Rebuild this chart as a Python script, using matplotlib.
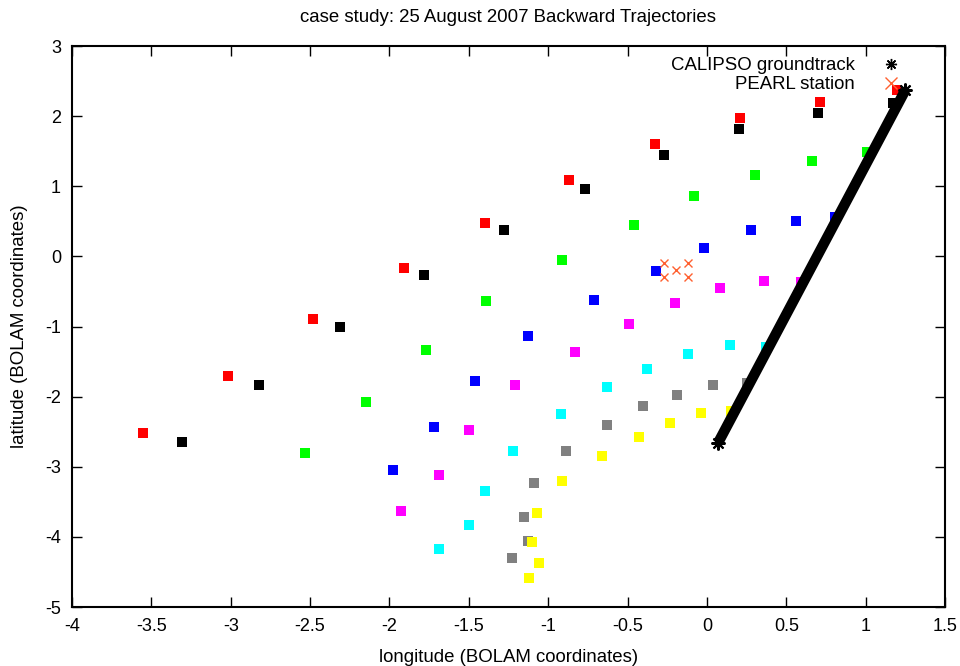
import numpy as np
import matplotlib
matplotlib.use("Agg")
import matplotlib.pyplot as plt
from matplotlib.lines import Line2D

plt.rcParams['font.family'] = ['Liberation Sans', 'DejaVu Sans']
plt.rcParams['axes.unicode_minus'] = False

# trajectory positions, one list per colour (lon, lat in BOLAM coordinates)
red_lon = [-3.55, -3.02, -2.48, -1.91, -1.40, -0.87, -0.33, 0.21, 0.71, 1.20]
red_lat = [-2.52, -1.71, -0.90, -0.16, 0.48, 1.09, 1.60, 1.97, 2.20, 2.37]

black_lon = [-3.31, -2.82, -2.31, -1.78, -1.28, -0.77, -0.27, 0.20, 0.70, 1.17]
black_lat = [-2.64, -1.83, -1.00, -0.26, 0.38, 0.96, 1.45, 1.82, 2.05, 2.19]

green_lon = [-2.53, -2.15, -1.77, -1.39, -0.91, -0.46, -0.08, 0.30, 0.66, 1.01]
green_lat = [-2.81, -2.08, -1.34, -0.64, -0.05, 0.45, 0.86, 1.16, 1.36, 1.49]

blue_lon = [-1.98, -1.72, -1.46, -1.13, -0.71, -0.32, -0.02, 0.28, 0.56, 0.81]
blue_lat = [-3.05, -2.44, -1.78, -1.14, -0.62, -0.21, 0.12, 0.38, 0.51, 0.56]

magenta_lon = [-1.93, -1.69, -1.50, -1.21, -0.83, -0.49, -0.20, 0.08, 0.36, 0.59]
magenta_lat = [-3.63, -3.12, -2.47, -1.84, -1.36, -0.96, -0.66, -0.45, -0.35, -0.36]

cyan_lon = [-1.69, -1.50, -1.40, -1.22, -0.92, -0.63, -0.38, -0.12, 0.145, 0.37]
cyan_lat = [-4.17, -3.83, -3.35, -2.77, -2.25, -1.86, -1.60, -1.39, -1.27, -1.29]

gray_lon = [-1.23, -1.13, -1.15, -1.09, -0.89, -0.63, -0.40, -0.19, 0.04, 0.25]
gray_lat = [-4.30, -4.06, -3.72, -3.23, -2.77, -2.41, -2.14, -1.97, -1.83, -1.80]

yellow_lon = [-1.12, -1.06, -1.10, -1.07, -0.91, -0.66, -0.43, -0.23, -0.04, 0.15]
yellow_lat = [-4.59, -4.37, -4.07, -3.66, -3.21, -2.85, -2.57, -2.37, -2.24, -2.21]

# CALIPSO groundtrack end points
track_lon = [0.07, 1.25]
track_lat = [-2.66, 2.37]

# PEARL station marks
pearl_lon = [-0.27, -0.12, -0.195, -0.27, -0.12]
pearl_lat = [-0.09, -0.09, -0.20, -0.30, -0.30]

series = [
    (red_lon, red_lat, '#ff0000'),
    (black_lon, black_lat, '#000000'),
    (green_lon, green_lat, '#00ff00'),
    (blue_lon, blue_lat, '#0000ff'),
    (magenta_lon, magenta_lat, '#ff00ff'),
    (cyan_lon, cyan_lat, '#00ffff'),
    (gray_lon, gray_lat, '#808080'),
    (yellow_lon, yellow_lat, '#ffff00'),
]

fig = plt.figure(figsize=(9.6, 6.66), dpi=100)
ax = fig.add_axes([72 / 960, 1 - 607 / 666, 873 / 960, 561 / 666])

for lon, lat, col in series:
    ax.scatter(lon, lat, marker='s', s=42, c=col, linewidths=0, zorder=2)

asterisk = (8, 2, 0)
ax.plot(track_lon, track_lat, color='black', lw=7.5, solid_capstyle='butt',
        marker=asterisk, ms=10, mew=1.5, zorder=3)
ax.plot(pearl_lon, pearl_lat, ls='none', marker='x', ms=6, mew=1,
        color='#ff6030', zorder=4)

handles = [
    Line2D([], [], ls='none', marker=asterisk, ms=8, mew=1, color='black'),
    Line2D([], [], ls='none', marker='x', ms=8, mew=1, color='#ff6030'),
]
ax.legend(handles, ['CALIPSO groundtrack', 'PEARL station'], loc='upper right',
          frameon=False, markerfirst=False, fontsize=13.4, handlelength=1.0,
          handletextpad=1.45, labelspacing=0.1, borderaxespad=0.0,
          bbox_to_anchor=(0.957, 0.993))

ax.set_xlim(-4, 1.5)
ax.set_ylim(-5, 3)
ax.set_xticks(np.arange(-4, 1.51, 0.5))
ax.set_yticks(np.arange(-5, 3.1, 1))
ax.set_xticklabels(['-4', '-3.5', '-3', '-2.5', '-2', '-1.5', '-1', '-0.5',
                    '0', '0.5', '1', '1.5'])
ax.tick_params(direction='in', length=7, width=1, top=True, right=True,
               labelsize=13, pad=8, colors='black')
for sp in ax.spines.values():
    sp.set_linewidth(1.5)

ax.set_xlabel('longitude (BOLAM coordinates)', fontsize=13.4, labelpad=10)
ax.set_ylabel('latitude (BOLAM coordinates)', fontsize=13.4, labelpad=12)
fig.text(508 / 960, 1 - 18 / 666, 'case study: 25 August 2007 Backward Trajectories',
         ha='center', va='center', fontsize=13.4)

fig.savefig('out.png', dpi=100)
